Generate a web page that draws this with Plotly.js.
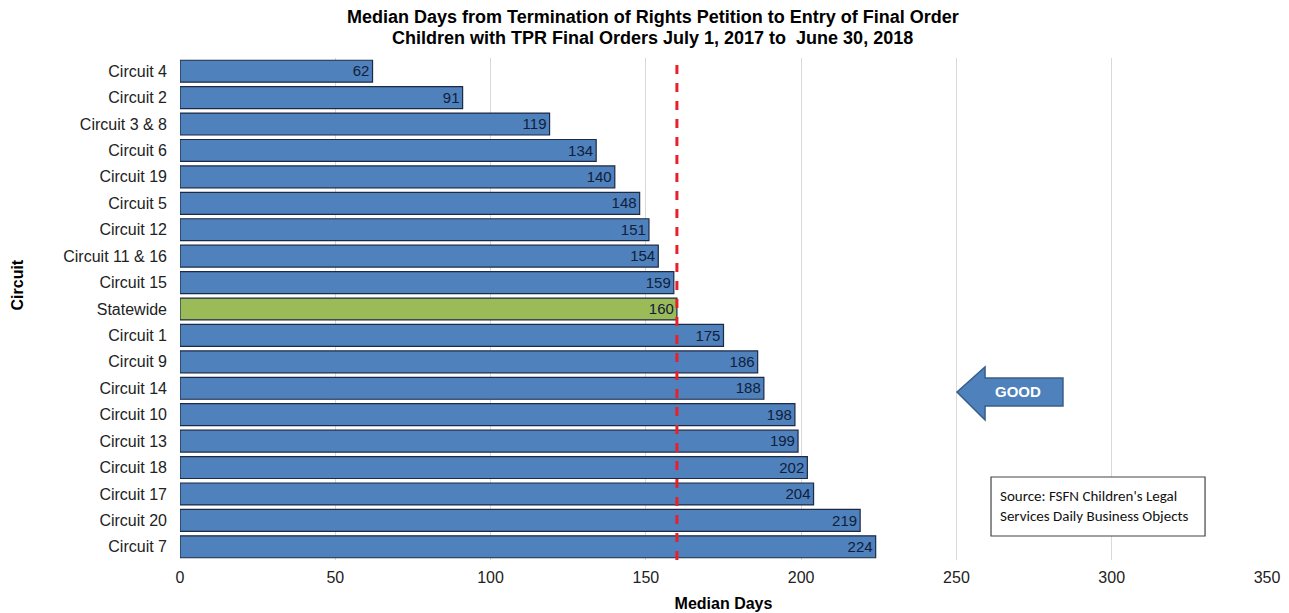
<!DOCTYPE html>
<html>
<head>
<meta charset="utf-8">
<script src="https://cdn.plot.ly/plotly-3.0.1.min.js"></script>
<style>html,body{margin:0;padding:0;background:#fff;}#chart{width:1289px;height:613px;}</style>
</head>
<body>
<div id="chart"></div>
<script>
const circuits = ["Circuit 4","Circuit 2","Circuit 3 & 8","Circuit 6","Circuit 19","Circuit 5","Circuit 12","Circuit 11 & 16","Circuit 15","Statewide","Circuit 1","Circuit 9","Circuit 14","Circuit 10","Circuit 13","Circuit 18","Circuit 17","Circuit 20","Circuit 7"];
const medianDays = [62,91,119,134,140,148,151,154,159,160,175,186,188,198,199,202,204,219,224];
const highlight = "Statewide";
const targetDays = 160;
const xTicks = [0,50,100,150,200,250,300,350];

const sans = "'Liberation Sans', Arial, sans-serif";

const colors = circuits.map(c => c === highlight ? "#9bbb59" : "#4f81bd");

const trace = {
  type: "bar",
  orientation: "h",
  y: circuits,
  x: medianDays,
  text: medianDays.map(String),
  textposition: "inside",
  insidetextanchor: "end",
  textangle: 0,
  textfont: {family: sans, size: 16, color: "#10203a"},
  marker: {color: colors, line: {color: "#1c2a44", width: 1.2}},
  cliponaxis: false,
  hoverinfo: "x+y"
};

const layout = {
  width: 1289, height: 613,
  margin: {l: 180, r: 22, t: 58, b: 53},
  paper_bgcolor: "#fff", plot_bgcolor: "#fff",
  showlegend: false,
  bargap: 0.17,
  xaxis: {
    range: [0, 350], tickvals: xTicks, ticktext: xTicks.map(String),
    showgrid: true, gridcolor: "#d9d9d9", gridwidth: 1,
    zeroline: false, showline: false, ticks: "",
    tickfont: {family: sans, size: 16, color: "#222"},
    ticklabelstandoff: 6,
    title: {text: "Median Days", font: {family: sans, size: 16, color: "#000", weight: "bold"}, standoff: 12}
  },
  yaxis: {
    categoryorder: "array", categoryarray: circuits,
    autorange: "reversed", range: [18.5, -0.5],
    showgrid: false, zeroline: false, showline: false, ticks: "",
    tickfont: {family: sans, size: 16, color: "#222"},
    ticklabelstandoff: 12
  },
  shapes: [
    {type: "line", xref: "x", yref: "paper", x0: targetDays, x1: targetDays, y0: 0, y1: 1,
     line: {color: "#e8202a", width: 3, dash: "dash"}, layer: "above"},
    {type: "path", xref: "paper", yref: "paper",
     path: "M 0.7148 0.3347 L 0.7406 0.3845 L 0.7406 0.3625 L 0.8123 0.3625 L 0.8123 0.3068 L 0.7406 0.3068 L 0.7406 0.2789 Z",
     fillcolor: "#4f81bd", line: {color: "#385d8a", width: 1.5}},
    {type: "rect", xref: "paper", yref: "paper", x0: 0.7461, x1: 0.9430, y0: 0.0478, y1: 0.1653,
     fillcolor: "#fff", line: {color: "#444", width: 1.2}}
  ],
  annotations: [
    {text: "<b>Median Days from Termination of Rights Petition to Entry of Final Order</b>", xref: "paper", yref: "paper",
     x: 0.4348, y: 1.0817, xanchor: "center", yanchor: "middle", showarrow: false,
     font: {family: sans, size: 18, color: "#000"}},
    {text: "<b>Children with TPR Final Orders July 1, 2017 to  June 30, 2018</b>", xref: "paper", yref: "paper",
     x: 0.4348, y: 1.0398, xanchor: "center", yanchor: "middle", showarrow: false,
     font: {family: sans, size: 18, color: "#000"}},
    {text: "<b>GOOD</b>", xref: "paper", yref: "paper", x: 0.7710, y: 0.3347, xanchor: "center", yanchor: "middle",
     showarrow: false, font: {family: sans, size: 15, color: "#fff"}},
    {text: "Source: FSFN Children's Legal<br>Services Daily Business Objects", xref: "paper", yref: "paper",
     x: 0.7526, y: 0.1066, xanchor: "left", yanchor: "middle", align: "left", showarrow: false,
     font: {family: "'Carlito', 'Open Sans', sans-serif", size: 15, color: "#111"}},
    {text: "<b>Circuit</b>", xref: "paper", yref: "paper", x: -0.1495, y: 0.5478, xanchor: "center", yanchor: "middle",
     textangle: -90, showarrow: false, font: {family: sans, size: 16, color: "#000"}}
  ]
};

Plotly.newPlot("chart", [trace], layout, {displayModeBar: false, staticPlot: true});
</script>
</body>
</html>
